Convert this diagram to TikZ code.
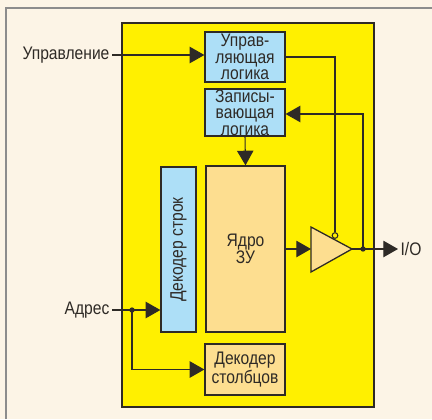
\documentclass[tikz,border=0pt]{standalone}
\usepackage{fontspec}
\setmainfont{Liberation Sans}[FakeStretch=0.86]
\usetikzlibrary{arrows.meta}

\definecolor{paper}{HTML}{FCF4E6}
\definecolor{chip}{HTML}{FFF000}
\definecolor{logicblue}{HTML}{ADDFF7}
\definecolor{coreorange}{HTML}{FDDE90}
\definecolor{ink}{HTML}{2E2A26}

\begin{document}
\begin{tikzpicture}[x=0.03cm,y=-0.03cm,
                    every node/.style={font=\fontsize{15.5}{14.2}\selectfont,text=ink},
                    blk/.style={draw=ink,line width=1.1pt,inner sep=0pt,align=center},
                    sig/.style={draw=ink,line width=0.9pt,-{Triangle[length=12.5pt,width=14pt]}},
                    wire/.style={draw=ink,line width=0.9pt},
                    junc/.style={circle,fill=ink,inner sep=0pt,minimum size=0.16cm}]
  % page and frame
  \fill[paper] (0,0) rectangle (432,419);
  \useasboundingbox (0,0) rectangle (432,419);
  \draw[black!45,line width=1.6pt] (6,419) -- (6,8) -- (432,8);
  \draw[blk,fill=chip] (122,23) rectangle (374,407);

  % blocks
  \node[blk,fill=logicblue,minimum width=2.4cm,minimum height=1.5cm]  (ctl)    at (245,57)    {Управ-\\ляющая\\логика};
  \node[blk,fill=logicblue,minimum width=2.4cm,minimum height=1.41cm] (wrt)    at (245,112.5) {Записы-\\вающая\\логика};
  \node[blk,fill=coreorange,minimum width=2.37cm,minimum height=4.98cm] (core) at (245.5,249) {Ядро\\ЗУ};
  \node[blk,fill=logicblue,minimum width=1.05cm,minimum height=4.95cm] (rowdec) at (178.5,249.5) {};
  \node[rotate=90] at (rowdec) {Декодер строк};
  \node[blk,fill=coreorange,minimum width=2.4cm,minimum height=1.53cm] (coldec) at (245,369.5) {Декодер\\столбцов};

  % output buffer
  \draw[blk,fill=coreorange] (311,227) -- (352,249) -- (311,272) -- cycle;
  \coordinate (bufin) at (311,249);
  \coordinate (bufout) at (352,249);
  \node[circle,draw=ink,line width=0.9pt,fill=chip,inner sep=0pt,minimum size=0.17cm] (bubble) at (335,235.5) {};

  % labels
  \node[anchor=east,inner sep=2pt] (ctrlbl) at (112,55)  {Управление};
  \node[anchor=east,inner sep=2pt] (adrlbl) at (112,310) {Адрес};
  \node[anchor=west,inner sep=2pt] (iolbl)  at (398,249) {I/O};

  \coordinate (adrdot) at (132,310);
  \coordinate (iodot)  at (363,249);

  % connectors
  \draw[sig] (ctrlbl.east) -- (ctrlbl.east -| ctl.west);
  \draw[wire] (ctl.east |- 0,57) -| (bubble.north);
  \draw[sig] (iodot) |- (wrt.east |- 0,114);
  \draw[sig] (wrt.south) -- (core.north);
  \draw[sig] (core.east |- bufin) -- (bufin);
  \draw[wire] (bufout) -- (iodot);
  \draw[sig] (iodot) -- (iolbl.west);
  \draw[wire] (adrlbl.east) -- (adrdot);
  \draw[sig] (adrdot) -- (adrdot -| rowdec.west);
  \draw[sig] (adrdot) |- (coldec.west);
  \node[junc] at (adrdot) {};
  \node[junc] at (iodot) {};
\end{tikzpicture}
\end{document}
